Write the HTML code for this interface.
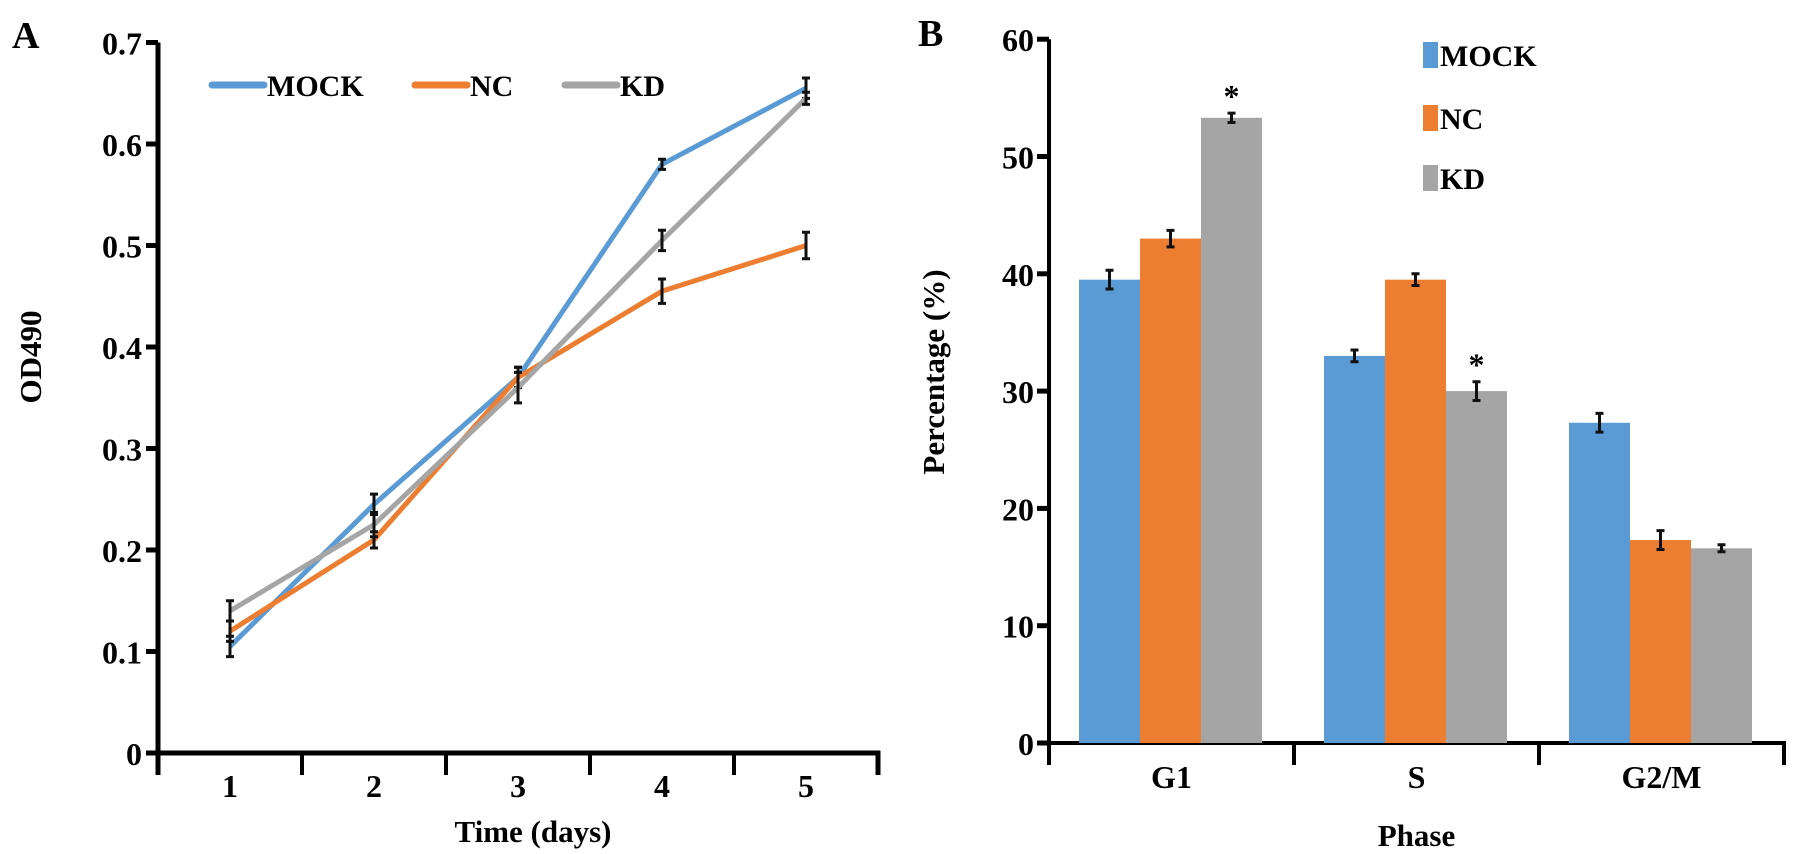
<!DOCTYPE html>
<html><head><meta charset="utf-8"><style>
html,body{margin:0;padding:0;background:#fff;}
svg{display:block;font-family:"Liberation Serif",serif;font-weight:bold;}
</style></head><body>
<svg id="c" width="1795" height="854" viewBox="0 0 1795 854" xmlns="http://www.w3.org/2000/svg"></svg>
<script>
const days=[1,2,3,4,5];
const mockOD=[0.105,0.245,0.37,0.58,0.655];
const ncOD=[0.12,0.21,0.37,0.455,0.50];
const kdOD=[0.14,0.225,0.36,0.505,0.645];
const mockODErr=[0.01,0.01,0.01,0.005,0.01];
const ncODErr=[0.01,0.008,0.01,0.012,0.013];
const kdODErr=[0.01,0.012,0.015,0.01,0.006];
const odTicks=[0,0.1,0.2,0.3,0.4,0.5,0.6,0.7];
const phases=["G1","S","G2/M"];
const mockPct=[39.5,33,27.3];
const ncPct=[43,39.5,17.3];
const kdPct=[53.3,30,16.6];
const mockPctErr=[0.8,0.5,0.8];
const ncPctErr=[0.7,0.5,0.8];
const kdPctErr=[0.4,0.8,0.3];
const pctTicks=[0,10,20,30,40,50,60];
const kdStars=[true,true,false];

const svg=document.getElementById('c');
const NS='http://www.w3.org/2000/svg';
function mk(tag,attrs,parent){const e=document.createElementNS(NS,tag);for(const k in attrs)e.setAttribute(k,attrs[k]);(parent||svg).appendChild(e);return e;}
function txt(s,attrs,parent){const e=mk('text',attrs,parent);e.textContent=s;return e;}
const C={mock:'#5b9bd5',nc:'#ed7d31',kd:'#a5a5a5'};
const TICK=32,TITLE=31,LEG=30;

// Panel A
const ax0=158,ay0=753,ayPer=1015,dayW=144;
const xA=d=>ax0+(d-0.5)*dayW;
const yA=v=>ay0-v*ayPer;
const gA=mk('g',{});


let t=txt('A',{x:12,y:48,'font-size':38},gA);

let ax=mk('path',{d:`M${ax0} ${yA(0.7)}V${ay0+22}M${ax0-6} ${ay0}H${ax0+5*dayW}V${ay0+22}`,stroke:'#000','stroke-width':5,fill:'none'},gA);

odTicks.forEach(v=>{
 mk('line',{x1:ax0-12,x2:ax0,y1:yA(v),y2:yA(v),stroke:'#000','stroke-width':5},gA);
 const l=txt(v===0?'0':v.toFixed(1),{x:ax0-16,y:yA(v)+12,'font-size':TICK,'text-anchor':'end'},gA);
 
});
days.forEach((d,i)=>{
 if(i>0)mk('line',{x1:ax0+i*dayW,x2:ax0+i*dayW,y1:ay0,y2:ay0+22,stroke:'#000','stroke-width':4},gA);
 const l=txt(String(d),{x:xA(d),y:797,'font-size':TICK,'text-anchor':'middle'},gA);
 
});
t=txt('Time (days)',{x:533,y:842,'font-size':TITLE,'text-anchor':'middle'},gA);

t=txt('OD490',{x:0,y:0,'font-size':TITLE,'text-anchor':'middle',transform:`translate(41,357) rotate(-90)`},gA);

[[mockOD,mockODErr,C.mock,'mock'],[ncOD,ncODErr,C.nc,'nc'],[kdOD,kdODErr,C.kd,'kd']].forEach(([vals,errs,col,n])=>{
 const p=mk('polyline',{points:vals.map((v,i)=>`${xA(days[i])},${yA(v)}`).join(' '),fill:'none',stroke:col,'stroke-width':5},gA);
 
 vals.forEach((v,i)=>{
  const x=xA(days[i]);
  const e=mk('path',{d:`M${x} ${yA(v+errs[i])}V${yA(v-errs[i])}M${x-4} ${yA(v+errs[i])}H${x+4}M${x-4} ${yA(v-errs[i])}H${x+4}`,stroke:'#111','stroke-width':3},gA);
  
 });
});
[['MOCK',212,C.mock],['NC',415,C.nc],['KD',565,C.kd]].forEach(([n,x,col])=>{
 const g=mk('g',{},gA);
 
 mk('line',{x1:x,x2:x+52,y1:85,y2:85,stroke:col,'stroke-width':7,'stroke-linecap':'round'},g);
 txt(n,{x:x+55,y:96,'font-size':LEG},g);
});

// Panel B
const bx0=1049,by0=743,byPer=11.73,grpW=245,barW=61;
const yB=v=>by0-v*byPer;
const gB=mk('g',{});

t=txt('B',{x:918,y:46,'font-size':38},gB);

ax=mk('path',{d:`M${bx0} ${yB(60)}V${by0+22}M${bx0-6} ${by0}H${bx0+3*grpW}V${by0+22}`,stroke:'#000','stroke-width':4,fill:'none'},gB);

pctTicks.forEach(v=>{
 mk('line',{x1:bx0-12,x2:bx0,y1:yB(v),y2:yB(v),stroke:'#000','stroke-width':5},gB);
 const l=txt(String(v),{x:bx0-15,y:yB(v)+12,'font-size':TICK,'text-anchor':'end'},gB);
 
});
phases.forEach((p,i)=>{
 if(i>0)mk('line',{x1:bx0+i*grpW,x2:bx0+i*grpW,y1:by0,y2:by0+22,stroke:'#000','stroke-width':4},gB);
 const l=txt(p,{x:bx0+(i+0.5)*grpW,y:788,'font-size':TICK,'text-anchor':'middle'},gB);
 
});
t=txt('Phase',{x:bx0+1.5*grpW,y:846,'font-size':TITLE,'text-anchor':'middle'},gB);

t=txt('Percentage (%)',{x:0,y:0,'font-size':TITLE,'text-anchor':'middle',transform:`translate(944,372) rotate(-90)`},gB);

[[mockPct,mockPctErr,C.mock,'mock'],[ncPct,ncPctErr,C.nc,'nc'],[kdPct,kdPctErr,C.kd,'kd']].forEach(([vals,errs,col,n],s)=>{
 vals.forEach((v,i)=>{
  const x=bx0+i*grpW+30+s*barW;
  const r=mk('rect',{x:x,y:yB(v),width:barW,height:by0-yB(v),fill:col},gB);
  
  const cx=x+barW/2;
  const e=mk('path',{d:`M${cx} ${yB(v+errs[i])}V${yB(v-errs[i])}M${cx-4} ${yB(v+errs[i])}H${cx+4}M${cx-4} ${yB(v-errs[i])}H${cx+4}`,stroke:'#111','stroke-width':3},gB);
  
  if(n==='kd'&&kdStars[i]){
   const st=txt('*',{x:cx,y:yB(v+errs[i])-6,'font-size':32,'text-anchor':'middle'},gB);
   
  }
 });
});
[['MOCK',55,C.mock],['NC',118,C.nc],['KD',178,C.kd]].forEach(([n,y,col])=>{
 const g=mk('g',{},gB);
 
 mk('rect',{x:1423,y:y-13,width:15,height:26,fill:col},g);
 txt(n,{x:1440,y:y+11,'font-size':LEG},g);
});
</script>
</body></html>
